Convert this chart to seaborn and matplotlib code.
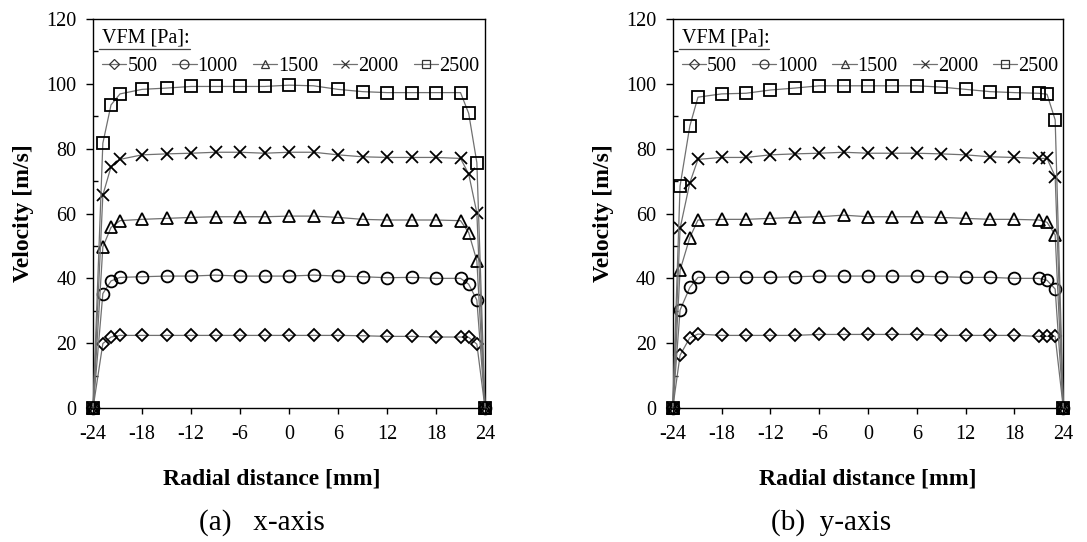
import matplotlib
matplotlib.use("Agg")
import matplotlib.pyplot as plt
from matplotlib.lines import Line2D
from matplotlib.ticker import MultipleLocator
import seaborn as sns
import pandas as pd

# Radial measurement positions [mm]
radial_a = [-24, -22.8, -21.8, -20.7, -18, -15, -12, -9, -6, -3, 0, 3, 6, 9, 12, 15, 18, 21, 22, 23, 24]
radial_b = [-24, -23.1, -21.9, -20.9, -18, -15, -12, -9, -6, -3, 0, 3, 6, 9, 12, 15, 18, 21, 22, 23, 24]

pressures = ["500", "1000", "1500", "2000", "2500"]

# Velocity profiles along the x-axis [m/s]
vel_a_500 = [0, 19.9, 21.9, 22.4, 22.4, 22.4, 22.4, 22.4, 22.4, 22.4, 22.4, 22.4, 22.4, 22.3, 22.1, 22.1, 21.9, 21.9, 21.8, 19.7, 0]
vel_a_1000 = [0, 35.3, 39.2, 40.3, 40.5, 40.7, 40.7, 41.0, 40.7, 40.7, 40.7, 41.0, 40.7, 40.5, 40.2, 40.3, 40.0, 40.0, 38.2, 33.3, 0]
vel_a_1500 = [0, 49.7, 55.7, 57.8, 58.2, 58.5, 58.8, 59.0, 59.0, 59.0, 59.2, 59.2, 58.8, 58.2, 58.0, 58.0, 58.0, 57.8, 54.1, 45.4, 0]
vel_a_2000 = [0, 65.7, 74.4, 76.7, 78.1, 78.4, 78.6, 78.9, 78.9, 78.6, 78.9, 78.9, 78.1, 77.5, 77.3, 77.3, 77.3, 77.0, 72.2, 60.2, 0]
vel_a_2500 = [0, 81.7, 93.5, 96.9, 98.3, 98.7, 99.2, 99.2, 99.2, 99.2, 99.6, 99.4, 98.3, 97.6, 97.3, 97.3, 97.3, 97.3, 90.9, 75.7, 0]

# Velocity profiles along the y-axis [m/s]
vel_b_500 = [0, 16.3, 21.7, 22.8, 22.4, 22.4, 22.4, 22.4, 22.7, 22.7, 22.7, 22.7, 22.7, 22.4, 22.4, 22.4, 22.4, 22.1, 22.1, 22.1, 0]
vel_b_1000 = [0, 30.2, 37.2, 40.3, 40.3, 40.3, 40.3, 40.5, 40.7, 40.7, 40.7, 40.7, 40.7, 40.5, 40.3, 40.3, 40.0, 40.0, 39.4, 36.7, 0]
vel_b_1500 = [0, 42.5, 52.6, 58.0, 58.2, 58.2, 58.5, 58.8, 59.0, 59.5, 59.0, 59.0, 59.0, 58.8, 58.5, 58.2, 58.2, 58.0, 57.3, 53.4, 0]
vel_b_2000 = [0, 55.4, 69.5, 76.7, 77.3, 77.3, 78.1, 78.4, 78.6, 78.9, 78.6, 78.6, 78.6, 78.4, 78.1, 77.5, 77.3, 77.0, 77.0, 71.4, 0]
vel_b_2500 = [0, 68.5, 87.0, 95.9, 96.9, 97.1, 98.1, 98.7, 99.4, 99.4, 99.4, 99.4, 99.4, 99.0, 98.3, 97.6, 97.3, 97.1, 96.8, 88.9, 0]

x_ticks = [-24, -18, -12, -6, 0, 6, 12, 18, 24]
y_ticks = [0, 20, 40, 60, 80, 100, 120]

markers = {"500": "D", "1000": "o", "1500": "^", "2000": "x", "2500": "s"}
marker_sizes = {"500": 6.5, "1000": 8.5, "1500": 8.5, "2000": 8.5, "2500": 8.5}

sns.set_theme(style="ticks")
plt.rcParams["font.family"] = ["Liberation Serif", "DejaVu Serif"]
plt.rcParams["axes.linewidth"] = 1.0
plt.rcParams["text.color"] = "black"
plt.rcParams["axes.labelcolor"] = "black"
plt.rcParams["xtick.color"] = "black"
plt.rcParams["ytick.color"] = "black"

LINE_GREY = "#707070"
TICK_FS = 14.5
LABEL_FS = 17


def build_frame(radial, profiles):
    rows = []
    for p, vals in zip(pressures, profiles):
        for r, v in zip(radial, vals):
            rows.append({"radial": r, "velocity": v, "VFM": p})
    return pd.DataFrame(rows)


df_a = build_frame(radial_a, [vel_a_500, vel_a_1000, vel_a_1500, vel_a_2000, vel_a_2500])
df_b = build_frame(radial_b, [vel_b_500, vel_b_1000, vel_b_1500, vel_b_2000, vel_b_2500])

fig = plt.figure(figsize=(10.87, 5.42), dpi=100)
ax_a = fig.add_axes([0.0856, 0.2472, 0.3606, 0.7177])
ax_b = fig.add_axes([0.6189, 0.2472, 0.3593, 0.7177])


def draw_panel(ax, df):
    for p in pressures:
        sub = df[df["VFM"] == p]
        sns.lineplot(
            data=sub, x="radial", y="velocity", ax=ax,
            color=LINE_GREY, linewidth=0.9, marker=markers[p],
            markersize=marker_sizes[p], markeredgecolor="black",
            markerfacecolor="none", markeredgewidth=1.3,
            legend=False, clip_on=False, zorder=3,
        )
    ax.set_xlim(-24, 24)
    ax.set_ylim(0, 120)
    ax.set_xticks(x_ticks)
    ax.set_xticklabels([str(t) for t in x_ticks])
    ax.set_yticks(y_ticks)
    ax.yaxis.set_minor_locator(MultipleLocator(10))
    ax.tick_params(axis="x", which="major", direction="out", length=4.5,
                   width=1.0, pad=8, labelsize=TICK_FS, colors="black")
    ax.tick_params(axis="y", which="major", direction="out", length=5,
                   width=1.0, pad=7, labelsize=TICK_FS, colors="black")
    ax.tick_params(axis="y", which="minor", direction="in", length=3.5,
                   width=1.0, left=True, right=False, colors="black")
    for s in ax.spines.values():
        s.set_color("black")
        s.set_linewidth(1.0)
    ax.set_xlabel("Radial distance [mm]", fontsize=LABEL_FS, fontweight="bold")
    ax.set_ylabel("Velocity [m/s]", fontsize=LABEL_FS, fontweight="bold")
    ax.yaxis.set_label_coords(-0.15, 0.5)

    handles = [
        Line2D([], [], color=LINE_GREY, linewidth=0.9, marker=markers[p],
               markersize=marker_sizes[p] * 0.75, markeredgecolor="#333333",
               markerfacecolor="none", markeredgewidth=0.9)
        for p in pressures
    ]
    leg = ax.legend(
        handles, pressures, title="VFM [Pa]:", loc="upper left",
        bbox_to_anchor=(0.0, 1.0), ncol=5, frameon=False, fontsize=TICK_FS,
        title_fontsize=TICK_FS, alignment="left", handlelength=1.2,
        handletextpad=0.05, columnspacing=0.75, borderaxespad=0.2,
        borderpad=0.25, labelspacing=0.5,
    )
    return leg


leg_a = draw_panel(ax_a, df_a)
leg_b = draw_panel(ax_b, df_b)

ax_a.xaxis.set_label_coords(0.457, -0.155)
ax_b.xaxis.set_label_coords(0.5, -0.155)

# underline beneath each legend title
fig.canvas.draw()
renderer = fig.canvas.get_renderer()
for ax, leg in ((ax_a, leg_a), (ax_b, leg_b)):
    bb = leg.get_title().get_window_extent(renderer)
    inv = ax.transAxes.inverted()
    (x0, y0), (x1, y1) = inv.transform([(bb.x0, bb.y0), (bb.x1, bb.y1)])
    ax.add_line(Line2D([x0 - 0.008, x1], [y0 - 0.006, y0 - 0.006],
                       transform=ax.transAxes, color="#444444",
                       linewidth=0.9, clip_on=False))

fig.text(262 / 1087, 1 - 523 / 542, "(a)   x-axis", fontsize=21,
         ha="center", va="center")
fig.text(831 / 1087, 1 - 523 / 542, "(b)  y-axis", fontsize=21,
         ha="center", va="center")

fig.savefig("out.png", dpi=100, facecolor="white")
